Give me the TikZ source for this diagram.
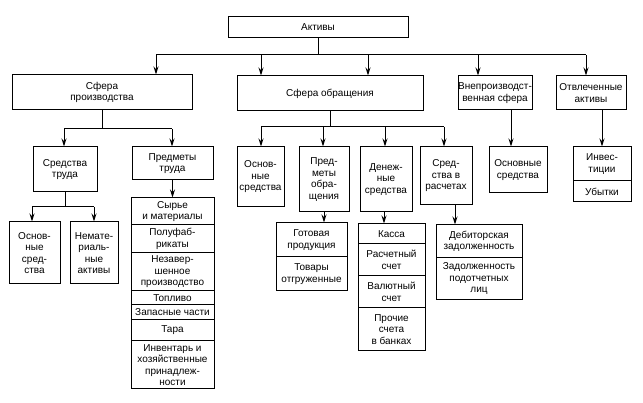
\documentclass[tikz,border=0pt]{standalone}
\usepackage{fontspec}
\setmainfont{Liberation Sans}
\usetikzlibrary{arrows.meta}
\newcommand\bx[6]{\node[box, minimum width={(#4-#2)*1pt}, minimum height={(#5-#3)*1pt}] (#1) at ({(#2+#4)/2},{(#3+#5)/2}) {#6};}
\begin{document}
\begin{tikzpicture}[x=1pt,y=-1pt,
  box/.style={draw, line width=1pt, inner sep=0pt, align=center, font=\fontsize{10}{11.5}\selectfont},
  arr/.style={-{Stealth[length=8pt,width=5pt]}, line width=1pt},
  ln/.style={line width=1pt}]
\useasboundingbox (0,0) rectangle (643,403);
% level 0
\bx{akt}{228}{17}{408}{38}{Активы}
% level 1
\bx{sp}{12}{75}{192}{110}{Сфера\\производства}
\bx{so}{237}{76}{423}{111}{Сфера обращения}
\bx{vn}{458}{76}{532}{110}{Внепроизводст-\\венная сфера}
\bx{ot}{556}{76}{626}{110}{Отвлеченные\\активы}
% production
\bx{st}{33}{147}{97}{192}{Средства\\труда}
\bx{pt}{132}{147}{213}{180}{Предметы\\труда}
\bx{os1}{9}{222}{60}{284}{Основ-\\ные\\сред-\\ства}
\bx{nm}{70}{222}{118}{284}{Немате-\\риаль-\\ные\\активы}
\bx{l1}{131}{198}{214}{225}{Сырье\\и материалы}
\bx{l2}{131}{225}{214}{253}{Полуфаб-\\рикаты}
\bx{l3}{131}{253}{214}{291}{Незавер-\\шенное\\производство}
\bx{l4}{131}{291}{214}{305}{Топливо}
\bx{l5}{131}{305}{214}{320}{Запасные части}
\bx{l6}{131}{320}{214}{341}{Тара}
\bx{l7}{131}{341}{214}{389}{Инвентарь и\\хозяйственные\\принадлеж-\\ности}
% circulation
\bx{os2}{237}{147}{284}{207}{Основ-\\ные\\средства}
\bx{po}{299}{147}{349}{212}{Пред-\\меты\\обра-\\щения}
\bx{ds}{360}{147}{412}{212}{Денеж-\\ные\\средства}
\bx{sr}{420}{147}{472}{205}{Сред-\\ства в\\расчетах}
\bx{g1}{276}{223}{347}{257}{Готовая\\продукция}
\bx{g2}{276}{257}{347}{291}{Товары\\отгруженные}
\bx{d1}{358}{224}{425}{244}{Касса}
\bx{d2}{358}{244}{425}{276}{Расчетный\\счет}
\bx{d3}{358}{276}{425}{308}{Валютный\\счет}
\bx{d4}{358}{308}{425}{351}{Прочие\\счета\\в банках}
\bx{r1}{436}{225}{522}{258}{Дебиторская\\задолженность}
\bx{r2}{436}{258}{522}{300}{Задолженность\\подотчетных\\лиц}
% others
\bx{os3}{489}{147}{547}{193}{Основные\\средства}
\bx{i1}{573}{147}{631}{181}{Инвес-\\тиции}
\bx{i2}{573}{181}{631}{202}{Убытки}
% connectors level 0 -> 1
\coordinate (j0) at (318,55);
\coordinate (t1) at (156,55);
\coordinate (t2) at (261,55);
\coordinate (t3) at (368,55);
\coordinate (t4) at (478,55);
\coordinate (t5) at (586,55);
\draw[ln] (akt.south) -- (j0);
\draw[ln] (t1) -- (t5);
\draw[arr] (t1) -- (t1 |- sp.north);
\draw[arr] (t2) -- (t2 |- so.north);
\draw[arr] (t3) -- (t3 |- so.north);
\draw[arr] (t4) -- (t4 |- vn.north);
\draw[arr] (t5) -- (t5 |- ot.north);
% production
\coordinate (pa) at (64,129);
\coordinate (pb) at (172,129);
\draw[ln] (sp.south) -- (sp.south |- pa);
\draw[ln] (pa) -- (pb);
\draw[arr] (pa) -- (pa |- st.north);
\draw[arr] (pb) -- (pb |- pt.north);
\coordinate (qa) at (32,207);
\coordinate (qb) at (94,207);
\draw[ln] (st.south) -- (st.south |- qa);
\draw[ln] (qa) -- (qb);
\draw[arr] (qa) -- (qa |- os1.north);
\draw[arr] (qb) -- (qb |- nm.north);
\draw[arr] (pt.south) -- (pt.south |- l1.north);
% circulation
\coordinate (ca) at (261,127);
\coordinate (cb) at (323,127);
\coordinate (cc) at (385,127);
\coordinate (cd) at (444,127);
\draw[ln] (so.south) -- (so.south |- ca);
\draw[ln] (ca) -- (cd);
\draw[arr] (ca) -- (ca |- os2.north);
\draw[arr] (cb) -- (cb |- po.north);
\draw[arr] (cc) -- (cc |- ds.north);
\draw[arr] (cd) -- (cd |- sr.north);
\draw[arr] (po.south) -- (po.south |- g1.north);
\draw[arr] ([xshift=-2pt]ds.south) -- ([xshift=-2pt]ds.south |- d1.north);
\draw[arr] ([xshift=9pt]sr.south) -- ([xshift=9pt]sr.south |- r1.north);
% others
\draw[arr] ([xshift=16pt]vn.south) -- ([xshift=16pt]vn.south |- os3.north);
\draw[arr] (i1.north |- ot.south) -- (i1.north);
\end{tikzpicture}
\end{document}
